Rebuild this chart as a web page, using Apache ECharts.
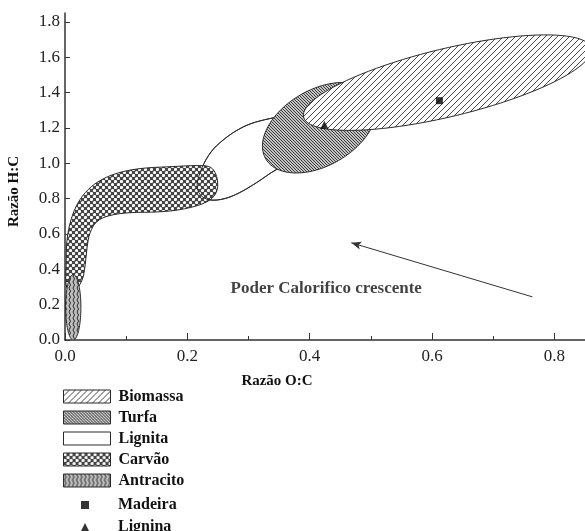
<!DOCTYPE html>
<html><head><meta charset="utf-8">
<script src="https://cdn.jsdelivr.net/npm/echarts@6/dist/echarts.min.js"></script>
<style>html,body{margin:0;padding:0;background:#fff}#c{width:585px;height:531px}</style>
</head><body><div id="c"></div>
<script>
// ---- data (x = razão O:C, y = razão H:C) ----
const xTicks = [0, 0.2, 0.4, 0.6, 0.8];
const xMinorTicks = [0.1, 0.3, 0.5, 0.7];
const yTicks = [0, 0.2, 0.4, 0.6, 0.8, 1.0, 1.2, 1.4, 1.6, 1.8];
const regionNames = ['Biomassa', 'Turfa', 'Lignita', 'Carvão', 'Antracito'];
const pointNames = ['Madeira', 'Lignina'];
// elliptic regions: centre and two half-axis vectors, data units
const biomassaCenter = [0.625, 1.456], biomassaMajor = [0.235, 0.195], biomassaMinor = [-0.013, 0.187];
const turfaCenter = [0.416, 1.201], turfaMajor = [0.088, 0.176], turfaMinor = [-0.031, 0.186];
const antracitoCenter = [0.0135, 0.185], antracitoMajor = [0, 0.185], antracitoMinor = [0.0125, 0];
// outlined regions
const lignitaOutline = [[0.216,0.878],[0.224,0.975],[0.239,1.065],[0.257,1.127],[0.280,1.184],[0.304,1.224],[0.334,1.252],[0.375,1.280],[0.416,1.303],[0.457,1.314],[0.481,1.292],[0.484,1.235],[0.465,1.161],[0.416,1.065],[0.367,0.992],[0.345,0.963],[0.313,0.890],[0.285,0.833],[0.260,0.799],[0.236,0.793],[0.221,0.822]];
const carvaoOutline = [[0.003,0.295],[0.002,0.442],[0.003,0.555],[0.008,0.657],[0.018,0.754],[0.033,0.833],[0.054,0.895],[0.083,0.941],[0.121,0.969],[0.170,0.980],[0.227,0.986],[0.241,0.969],[0.249,0.907],[0.247,0.833],[0.232,0.782],[0.195,0.742],[0.154,0.725],[0.105,0.720],[0.072,0.703],[0.052,0.669],[0.041,0.606],[0.036,0.521],[0.033,0.425],[0.028,0.340],[0.016,0.283]];
const madeiraPoint = [0.612, 1.354];
const ligninaPoint = [0.424, 1.218];
const arrowFrom = [0.764, 0.244];
const arrowTo = [0.468, 0.55];
const annotationText = 'Poder Calorifico crescente';
const annotationPos = [0.427, 0.289];

// ---- patterns ----
function tile(w, h, draw) {
  const c = document.createElement('canvas'); c.width = w; c.height = h;
  const g = c.getContext('2d'); draw(g, w, h);
  return { image: c, repeat: 'repeat' };
}
function hatch(s, dir, bg, fg, lw) {
  return tile(s, s, (g) => {
    g.fillStyle = bg; g.fillRect(0, 0, s, s);
    g.strokeStyle = fg; g.lineWidth = lw;
    for (let k = -s; k <= s; k += s) {
      g.beginPath();
      if (dir > 0) { g.moveTo(k, s); g.lineTo(k + s, 0); }
      else { g.moveTo(k, 0); g.lineTo(k + s, s); }
      g.stroke();
    }
  });
}
const patterns = {
  'Biomassa': hatch(6, 1, '#ffffff', '#333333', 0.9),
  'Turfa': hatch(3, -1, '#c4c4c4', '#2a2a2a', 0.9),
  'Lignita': '#ffffff',
  'Carvão': tile(6, 6, (g) => {
    g.fillStyle = '#444444'; g.fillRect(0, 0, 6, 6);
    g.fillStyle = '#ffffff';
    [[1.5,1.5],[4.5,4.5]].forEach(p => { g.beginPath(); g.arc(p[0], p[1], 1.6, 0, Math.PI * 2); g.fill(); });
  }),
  'Antracito': tile(4, 6, (g) => {
    g.fillStyle = '#bdbdbd'; g.fillRect(0, 0, 4, 6);
    g.strokeStyle = '#2a2a2a'; g.lineWidth = 1;
    g.beginPath(); g.moveTo(1, 0); g.quadraticCurveTo(4, 3, 1, 6); g.stroke();
  })
};

const STROKE = '#2a2a2a';
function ellipseRender(center, major, minor, fill, strokeOnly) {
  return function (params, api) {
    const c = api.coord(center);
    const pa = api.coord([center[0] + major[0], center[1] + major[1]]);
    const pb = api.coord([center[0] + minor[0], center[1] + minor[1]]);
    const ax = pa[0] - c[0], ay = pa[1] - c[1], bx = pb[0] - c[0], by = pb[1] - c[1];
    const pts = [];
    for (let i = 0; i < 96; i++) {
      const t = i / 96 * Math.PI * 2;
      pts.push([c[0] + Math.cos(t) * ax + Math.sin(t) * bx, c[1] + Math.cos(t) * ay + Math.sin(t) * by]);
    }
    return { type: 'polygon', shape: { points: pts }, style: { fill: strokeOnly ? 'none' : fill, stroke: STROKE, lineWidth: 1 } };
  };
}
function outlineRender(outline, fill, strokeOnly) {
  return function (params, api) {
    const pts = outline.map(p => api.coord(p));
    return { type: 'polygon', shape: { points: pts, smooth: 0.35 }, style: { fill: strokeOnly ? 'none' : fill, stroke: STROKE, lineWidth: 1 } };
  };
}
function region(name, render) {
  return { type: 'custom', name: name, data: [[0]], renderItem: render, clip: true, silent: true,
    itemStyle: { color: patterns[name] || '#fff', borderColor: STROKE } };
}

const serif = 'Liberation Serif';
const legendText = { fontFamily: serif, fontWeight: 'bold', fontSize: 16, lineHeight: 13, color: '#111' };
const chart = echarts.init(document.getElementById('c'), null, { renderer: 'canvas' });
chart.setOption({
  animation: false,
  backgroundColor: '#ffffff',
  grid: { left: 65, right: 0, top: 13, bottom: 191, outerBoundsMode: 'none' },
  xAxis: [{
    type: 'value', min: 0, max: 0.85, interval: 0.2,
    splitLine: { show: false },
    axisLine: { lineStyle: { color: '#333', width: 1.5 } },
    axisTick: { inside: true, length: 7, customValues: xTicks, lineStyle: { color: '#333' } },
    axisLabel: { customValues: xTicks, formatter: v => v.toFixed(1), margin: 8, fontFamily: serif, fontSize: 17, color: '#222' },
    name: 'Razão O:C', nameLocation: 'middle', nameGap: 34,
    nameTextStyle: { fontFamily: serif, fontWeight: 'bold', fontSize: 15, color: '#111', padding: [0, 96, 0, 0] }
  }, {
    type: 'value', min: 0, max: 0.85, position: 'bottom',
    splitLine: { show: false }, axisLine: { show: false }, axisLabel: { show: false },
    axisTick: { inside: true, length: 4, customValues: xMinorTicks, lineStyle: { color: '#333' } }
  }],
  yAxis: {
    type: 'value', min: 0, max: 1.85, interval: 0.2,
    splitLine: { show: false },
    axisLine: { show: true, lineStyle: { color: '#333', width: 1.5 } },
    axisTick: { show: true, inside: true, length: 5, customValues: yTicks, lineStyle: { color: '#333' } },
    axisLabel: { customValues: yTicks, formatter: v => v.toFixed(1), margin: 5, fontFamily: serif, fontSize: 17, color: '#222' },
    name: 'Razão H:C', nameLocation: 'middle', nameGap: 43,
    nameTextStyle: { fontFamily: serif, fontWeight: 'bold', fontSize: 15, color: '#111', padding: [0, 30, 0, 0] }
  },
  legend: [{
    orient: 'vertical', left: 63, top: 388.5, padding: 0, itemWidth: 47, itemHeight: 13, itemGap: 5, selectedMode: false,
    data: regionNames.map(n => ({ name: n, icon: 'rect', itemStyle: { color: patterns[n], borderColor: STROKE, borderWidth: 1 } })),
    textStyle: Object.assign({ padding: [0, 0, 0, 3] }, legendText)
  }, {
    orient: 'vertical', left: 81, top: 497, padding: 0, itemWidth: 8, itemHeight: 8, selectedMode: false,
    data: [{ name: pointNames[0], icon: 'rect' }],
    textStyle: Object.assign({ padding: [0, 0, 0, 24] }, legendText)
  }, {
    orient: 'vertical', left: 81, top: 519, padding: 0, itemWidth: 8, itemHeight: 8, selectedMode: false,
    data: [{ name: pointNames[1], icon: 'triangle' }],
    textStyle: Object.assign({ padding: [0, 0, 0, 24] }, legendText)
  }],
  series: [
    region('Lignita', outlineRender(lignitaOutline, '#ffffff', false)),
    region('Carvão', outlineRender(carvaoOutline, patterns['Carvão'], false)),
    { type: 'custom', data: [[0]], renderItem: outlineRender(lignitaOutline, 'none', true), clip: true, silent: true },
    region('Antracito', ellipseRender(antracitoCenter, antracitoMajor, antracitoMinor, patterns['Antracito'], false)),
    region('Turfa', ellipseRender(turfaCenter, turfaMajor, turfaMinor, patterns['Turfa'], false)),
    region('Biomassa', ellipseRender(biomassaCenter, biomassaMajor, biomassaMinor, patterns['Biomassa'], false)),
    { type: 'scatter', name: pointNames[0], data: [madeiraPoint], symbol: 'rect', symbolSize: 7, itemStyle: { color: '#000' }, silent: true },
    { type: 'scatter', name: pointNames[1], data: [ligninaPoint], symbol: 'triangle', symbolSize: 8, itemStyle: { color: '#000' }, silent: true },
    {
      type: 'scatter', data: [annotationPos], symbolSize: 0, itemStyle: { color: 'transparent' }, silent: true,
      label: { show: true, position: 'inside', formatter: annotationText, fontFamily: serif, fontWeight: 'bold', fontSize: 17, color: '#111' },
      markLine: {
        silent: true, symbol: ['none', 'arrow'], symbolSize: [6, 10], label: { show: false },
        lineStyle: { color: '#333', width: 1, type: 'solid' },
        data: [[{ coord: arrowFrom }, { coord: arrowTo }]]
      }
    }
  ]
});
</script></body></html>
